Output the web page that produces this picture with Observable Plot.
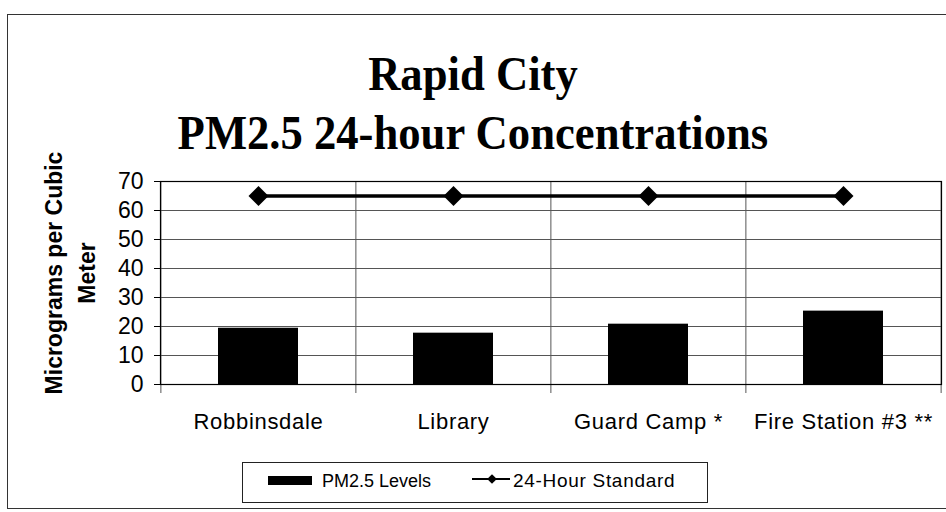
<!DOCTYPE html>
<html><head><meta charset="utf-8">
<script src="https://cdn.jsdelivr.net/npm/d3@7"></script>
<script src="https://cdn.jsdelivr.net/npm/@observablehq/plot@0.6"></script>
<style>
body{margin:0;background:#fff;}
#page{position:relative;width:946px;height:512px;overflow:hidden;background:#fff;font-family:"Liberation Sans",Arial,sans-serif;}
#outer{position:absolute;left:7px;top:14px;width:960px;height:495px;border:1px solid #333;box-sizing:border-box;}
#title{position:absolute;left:0;top:44px;width:946px;text-align:center;font-family:"Liberation Serif","Times New Roman",serif;font-weight:bold;font-size:48px;line-height:59px;color:#000;transform:scaleX(0.93);transform-origin:472px 0;}
#chart{position:absolute;left:0;top:165px;}
#chart svg{overflow:visible;}
#legend{position:absolute;left:242px;top:462px;}
g[aria-label="x-axis tick label"] text{letter-spacing:0.7px;}
</style></head><body>
<div id="page"><div id="outer"></div><div id="title">Rapid City<br>PM2.5 24-hour Concentrations</div><div id="chart"></div><div id="legend"></div></div>
<script>
const sites = ["Robbinsdale", "Library", "Guard Camp *", "Fire Station #3 **"];
const pm25 = [19.4, 17.7, 20.8, 25.3];
const standard = [65, 65, 65, 65];
const yTicks = [0, 10, 20, 30, 40, 50, 60, 70];
const seriesNames = ["PM2.5 Levels", "24-Hour Standard"];
const yTitle = "Micrograms per Cubic\nMeter";

const bars = sites.map((s, i) => ({site: s, value: pm25[i]}));
const std = sites.map((s, i) => ({site: s, value: standard[i]}));

const W = 946, H = 290, mL = 160, mR = 5, mT = 16, mB = 71;
const step = (W - mL - mR) / sites.length;

const plot = Plot.plot({
  width: W, height: H,
  marginLeft: mL, marginRight: mR, marginTop: mT, marginBottom: mB,
  style: {fontFamily: "'Liberation Sans', Arial, sans-serif", color: "#000", background: "none", overflow: "visible"},
  x: {domain: sites, paddingInner: 0.59, paddingOuter: 0.295, axis: null, label: null},
  y: {domain: [0, 70], axis: null, label: null},
  marks: [
    Plot.gridY(yTicks, {stroke: "#555", strokeOpacity: 1, strokeWidth: 1}),
    Plot.ruleX(sites, {x: d => d, dx: -step / 2, stroke: "#555", strokeWidth: 1, insetBottom: -9}),
    Plot.ruleX(sites.slice(-1), {x: d => d, dx: step / 2, stroke: "#555", strokeWidth: 1, insetBottom: -9}),
    Plot.barY(bars, {x: "site", y: "value", fill: "#000"}),
    Plot.line(std, {x: "site", y: "value", stroke: "#000", strokeWidth: 3.5}),
    Plot.dot(std, {x: "site", y: "value", symbol: "diamond2", r: 9, fill: "#000", stroke: "none"}),
    Plot.frame({stroke: "#000", strokeWidth: 1.2}),
    Plot.axisY(yTicks, {tickSize: 6, tickPadding: 11, fontSize: 23, label: null, stroke: "#000"}),
    Plot.axisX({tickSize: 0, tickPadding: 29, fontSize: 22, label: null}),
    Plot.text([yTitle], {frameAnchor: "left", text: d => d, rotate: -90, dx: -92.5, dy: -10,
      fontSize: 23, fontWeight: "bold", lineHeight: 1.45, textAnchor: "middle", lineAnchor: "middle", fill: "#000"})
  ]
});
document.getElementById("chart").appendChild(plot);

// Legend
const lg = d3.select("#legend").append("svg").attr("width", 467).attr("height", 42)
  .style("font-family", "'Liberation Sans', Arial, sans-serif");
lg.append("rect").attr("x", 0.5).attr("y", 0.5).attr("width", 465).attr("height", 40)
  .attr("fill", "#fff").attr("stroke", "#222");
lg.append("rect").attr("x", 26).attr("y", 14).attr("width", 44).attr("height", 9).attr("fill", "#000");
lg.append("text").attr("x", 80).attr("y", 25).attr("font-size", 18).text(seriesNames[0]);
lg.append("line").attr("x1", 230).attr("x2", 268).attr("y1", 17).attr("y2", 17).attr("stroke", "#000").attr("stroke-width", 2);
lg.append("path").attr("d", d3.symbol(d3.symbolDiamond2, 60)()).attr("transform", "translate(250,17)").attr("fill", "#000");
lg.append("text").attr("x", 271).attr("y", 25).attr("font-size", 19).attr("letter-spacing", 0.7).text(seriesNames[1]);
</script>
</body></html>
